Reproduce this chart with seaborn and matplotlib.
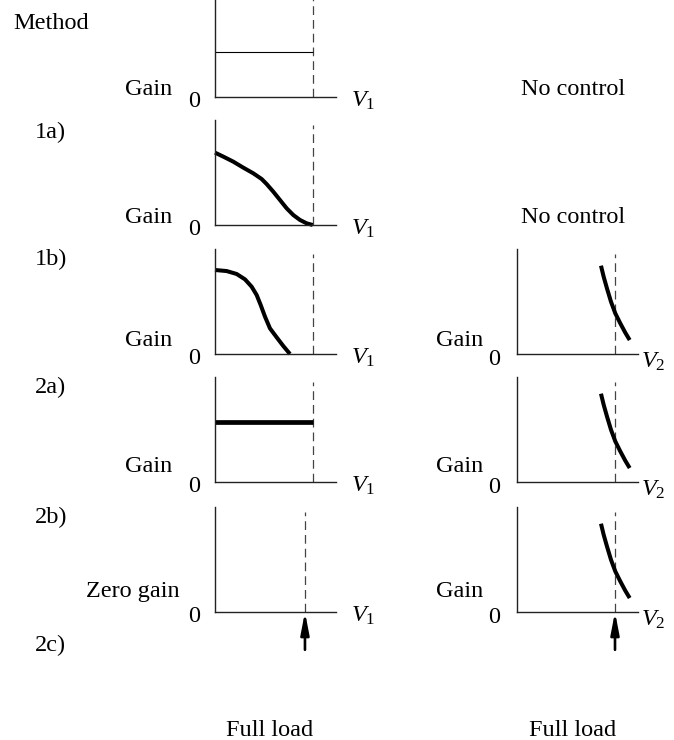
import matplotlib
matplotlib.use("Agg")
import matplotlib.pyplot as plt
import seaborn as sns

sns.set_theme(style="white")
plt.rcParams['font.family'] = ['Liberation Serif', 'DejaVu Serif']
plt.rcParams['mathtext.fontset'] = 'custom'
plt.rcParams['mathtext.rm'] = 'Liberation Serif'
plt.rcParams['mathtext.it'] = 'Liberation Serif:italic'
plt.rcParams['text.color'] = 'black'

# ---------------- data ----------------
method_labels = ["1a)", "1b)", "2a)", "2b)", "2c)"]
left_gain_labels = ["Gain", "Gain", "Gain", "Gain", "Zero gain"]
right_gain_labels = [None, None, "Gain", "Gain", "Gain"]
no_control_rows = [0, 1]

# full-load position (x where dashed line is) per row
left_full_load = [1.0, 1.0, 1.0, 1.0, 0.918]
right_full_load = [None, None, 1.0, 1.0, 1.0]

# row 1: thin constant gain
row1_x = [0.0, 1.0]
row1_y = [0.43, 0.43]
# 1a curve
c1a_x = [0.0, 0.085, 0.187, 0.289, 0.391, 0.476, 0.527, 0.595, 0.663,
         0.731, 0.799, 0.867, 0.935, 0.997]
c1a_y = [0.689, 0.651, 0.603, 0.546, 0.492, 0.438, 0.390, 0.317, 0.238,
         0.159, 0.095, 0.048, 0.016, 0.0]
# 1b curve
c1b_x = [0.0, 0.119, 0.221, 0.306, 0.374, 0.425, 0.466, 0.510, 0.561,
         0.629, 0.697, 0.765]
c1b_y = [0.800, 0.790, 0.762, 0.711, 0.641, 0.562, 0.467, 0.356, 0.244,
         0.159, 0.076, 0.0]
# 2a constant gain
c2a_x = [0.0, 1.0]
c2a_y = [0.567, 0.567]
# right-column V2 curve
cr_x = [0.857, 0.884, 0.918, 0.959, 1.003, 1.054, 1.105, 1.150]
cr_y = [0.841, 0.737, 0.625, 0.498, 0.387, 0.292, 0.203, 0.133]

# ---------------- layout ----------------
W, H = 674, 740
fig = plt.figure(figsize=(W / 100, H / 100), dpi=100)

row_bottom = [97, 225, 354, 482, 612]
ax_h = 105
ax_w = 121
left_x0 = 215
right_x0 = 517
XMAX = 121 / 98
FS = 17.5
AXCOL = '#222222'


def fx(px):
    return px / W


def fy(py):
    return 1 - py / H


def make_ax(x0, bottom):
    ax = fig.add_axes([fx(x0), fy(bottom), ax_w / W, ax_h / H])
    ax.set_xlim(0, XMAX)
    ax.set_ylim(0, 1)
    for s in ['top', 'right']:
        ax.spines[s].set_visible(False)
    for s in ['left', 'bottom']:
        ax.spines[s].set_color(AXCOL)
        ax.spines[s].set_linewidth(1.0)
    ax.set_xticks([])
    ax.set_yticks([])
    ax.set_xlabel('')
    ax.set_ylabel('')
    ax.patch.set_alpha(0)
    return ax


def curve(ax, xs, ys, lw):
    sns.lineplot(x=xs, y=ys, ax=ax, color='black', linewidth=lw,
                 estimator=None, sort=False, legend=False)
    for ln in ax.lines:
        ln.set_clip_on(False)
        ln.set_solid_capstyle('butt')
        ln.set_solid_joinstyle('round')


def dashed(ax, xpos):
    ax.plot([xpos, xpos], [0, 0.95], color='#444444', lw=0.9,
            dashes=(7, 4), clip_on=True)


def arrow(ax, xpos):
    ax.annotate('', xy=(xpos, 0), xytext=(xpos, -0.36),
                xycoords='data', textcoords='data', annotation_clip=False,
                arrowprops=dict(arrowstyle='-|>,head_length=1.3,head_width=0.25',
                                mutation_scale=10, lw=1.9, color='black',
                                shrinkA=0, shrinkB=0))


left_curves = [(row1_x, row1_y, 0.8), (c1a_x, c1a_y, 2.9),
               (c1b_x, c1b_y, 2.9), (c2a_x, c2a_y, 3.4), None]
gain_offsets = [2, 2, 8, 10, 15]

for i in range(5):
    b = row_bottom[i]
    ax = make_ax(left_x0, b)
    dashed(ax, left_full_load[i])
    if left_curves[i] is not None:
        xs, ys, lw = left_curves[i]
        curve(ax, xs, ys, lw)
    if i == 4:
        arrow(ax, left_full_load[i])
    fig.text(fx(172 if i < 4 else 180), fy(b - gain_offsets[i]), left_gain_labels[i],
             ha='right', va='baseline', fontsize=FS)
    fig.text(fx(200), fy(b + 10), "0", ha='right', va='baseline', fontsize=FS)
    fig.text(fx(351), fy(b + 10), "$V_1$", ha='left', va='baseline', fontsize=FS)

    if right_gain_labels[i] is not None:
        axr = make_ax(right_x0, b)
        dashed(axr, right_full_load[i])
        curve(axr, cr_x, cr_y, 2.9)
        if i == 4:
            arrow(axr, right_full_load[i])
        fig.text(fx(483), fy(b - gain_offsets[i]), right_gain_labels[i],
                 ha='right', va='baseline', fontsize=FS)
        fig.text(fx(500), fy(b + 11), "0", ha='right', va='baseline', fontsize=FS)
        fig.text(fx(641), fy(b + 14), "$V_2$", ha='left', va='baseline', fontsize=FS)

for i in no_control_rows:
    fig.text(fx(573), fy(row_bottom[i] - 2), "No control", ha='center',
             va='baseline', fontsize=FS)

fig.text(fx(13), fy(29), "Method", ha='left', va='baseline', fontsize=FS)
label_baselines = [138, 265, 393, 523, 651]
for lab, yb in zip(method_labels, label_baselines):
    fig.text(fx(35), fy(yb), lab, ha='left', va='baseline', fontsize=FS)

fig.text(fx(270), fy(736), "Full load", ha='center', va='baseline', fontsize=FS)
fig.text(fx(573), fy(736), "Full load", ha='center', va='baseline', fontsize=FS)

fig.savefig("out.png", dpi=100)
